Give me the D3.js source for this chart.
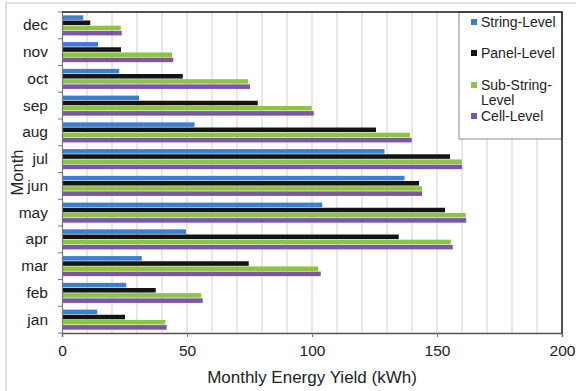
<!DOCTYPE html>
<html>
<head>
<meta charset="utf-8">
<script src="https://cdn.jsdelivr.net/npm/d3@7"></script>
<style>
  html, body { margin: 0; padding: 0; background: #fff; }
  svg { display: block; font-family: "Liberation Sans", Arial, sans-serif; }
</style>
</head>
<body>
<svg id="chart" width="576" height="391"></svg>
<script>
// ---- data ----
const months = ["jan", "feb", "mar", "apr", "may", "jun", "jul", "aug", "sep", "oct", "nov", "dec"];
const seriesNames = ["String-Level", "Panel-Level", "Sub-String-Level", "Cell-Level"];
const seriesColors = ["#3b7fd4", "#141414", "#8cc540", "#7d54ad"];
const stringLevel    = [14.1, 25.7, 31.9, 49.6, 104.1, 137.0, 129.0, 53.0, 30.8, 22.9, 14.4, 8.5];
const panelLevel     = [25.2, 37.5, 74.7, 134.7, 153.2, 142.8, 155.2, 125.6, 78.3, 48.3, 23.6, 11.3];
const subStringLevel = [41.3, 55.7, 102.5, 155.5, 161.5, 144.0, 159.9, 139.2, 99.9, 74.5, 44.0, 23.5];
const cellLevel      = [41.9, 56.3, 103.5, 156.3, 161.7, 144.0, 160.0, 139.9, 100.7, 75.2, 44.5, 23.9];
const xTicks = [0, 50, 100, 150, 200];
const xTitle = "Monthly Energy Yield (kWh)";
const yTitle = "Month";

const seriesValues = [stringLevel, panelLevel, subStringLevel, cellLevel];

// ---- layout ----
const svg = d3.select("#chart");
const L = 62, R = 562, T = 12, B = 333;
const FONT = "Liberation Sans, Arial, sans-serif";

const x = d3.scaleLinear().domain([0, 200]).range([L, R]);
const y = d3.scaleBand().domain(months.slice().reverse()).range([T, B]).paddingInner(0.25).paddingOuter(0.125);
const ySub = d3.scaleBand().domain(d3.range(seriesNames.length)).range([0, y.bandwidth()]).paddingInner(0.12);

// outer frame (top + left)
svg.append("path").attr("d", `M6,391 V3 H576`).attr("fill", "none").attr("stroke", "#d6d6d6").attr("stroke-width", 1.5);

// gridlines every 10
svg.append("g").selectAll("line").data(d3.range(10, 200, 10)).join("line")
  .attr("x1", d => x(d)).attr("x2", d => x(d)).attr("y1", T).attr("y2", B)
  .attr("stroke", "#d9d9d9").attr("stroke-width", 1.2);

// bars
const groups = svg.append("g").selectAll("g").data(months).join("g")
  .attr("transform", m => `translate(0,${y(m)})`);
groups.selectAll("rect").data((m, i) => seriesValues.map((s, k) => ({k, v: s[i]}))).join("rect")
  .attr("x", x(0))
  .attr("y", d => ySub(d.k))
  .attr("width", d => x(d.v) - x(0))
  .attr("height", ySub.bandwidth())
  .attr("fill", d => seriesColors[d.k]);

// x axis
const xAxis = d3.axisBottom(x).tickValues(xTicks).tickSize(4).tickPadding(8);
const gx = svg.append("g").attr("transform", `translate(0,${B})`).call(xAxis);
gx.select(".domain").attr("stroke", "#555").attr("stroke-width", 1.5);
gx.selectAll(".tick line").attr("stroke", "#777");
gx.selectAll("text").attr("font-size", 15.5).attr("fill", "#222").attr("font-family", FONT);

// y axis: ticks at category boundaries
const yAxis = d3.axisLeft(y).tickSize(0).tickPadding(14);
const gy = svg.append("g").attr("transform", `translate(${L},0)`).call(yAxis);
gy.select(".domain").attr("stroke", "#777").attr("stroke-width", 1.2);
gy.selectAll("text").attr("font-size", 15.5).attr("fill", "#222").attr("font-family", FONT);
const step = y.step();
svg.append("g").selectAll("line").data(d3.range(months.length + 1)).join("line")
  .attr("x1", L - 4).attr("x2", L).attr("y1", i => T + i * step).attr("y2", i => T + i * step)
  .attr("stroke", "#777");

// axis titles
svg.append("text").attr("x", (L + R) / 2).attr("y", 383).attr("text-anchor", "middle")
  .attr("font-size", 17).attr("fill", "#222").text(xTitle);
svg.append("text").attr("transform", `translate(23,${(T + B) / 2}) rotate(-90)`).attr("text-anchor", "middle")
  .attr("font-size", 16.5).attr("fill", "#222").text(yTitle);

// legend
const lg = svg.append("g");
lg.append("rect").attr("x", 459).attr("y", 12).attr("width", 103).attr("height", 127)
  .attr("fill", "#fff").attr("stroke", "#8a8a8a").attr("stroke-width", 1);

// plot border top/right
svg.append("path").attr("d", `M${L},${T} H${R} V${B}`).attr("fill", "none").attr("stroke", "#1a1a1a").attr("stroke-width", 1.5);

const legendItems = [
  {k: 0, lines: ["String-Level"], y: 22},
  {k: 1, lines: ["Panel-Level"], y: 53},
  {k: 2, lines: ["Sub-String-", "Level"], y: 85},
  {k: 3, lines: ["Cell-Level"], y: 116}
];
legendItems.forEach(it => {
  lg.append("rect").attr("x", 471).attr("y", it.y - 3).attr("width", 6).attr("height", 6).attr("fill", seriesColors[it.k]);
  const t = lg.append("text").attr("x", 481).attr("y", it.y + 5).attr("font-size", 14).attr("fill", "#222");
  it.lines.forEach((ln, j) => t.append("tspan").attr("x", 481).attr("dy", j === 0 ? 0 : 15).text(ln));
});
</script>
</body>
</html>
